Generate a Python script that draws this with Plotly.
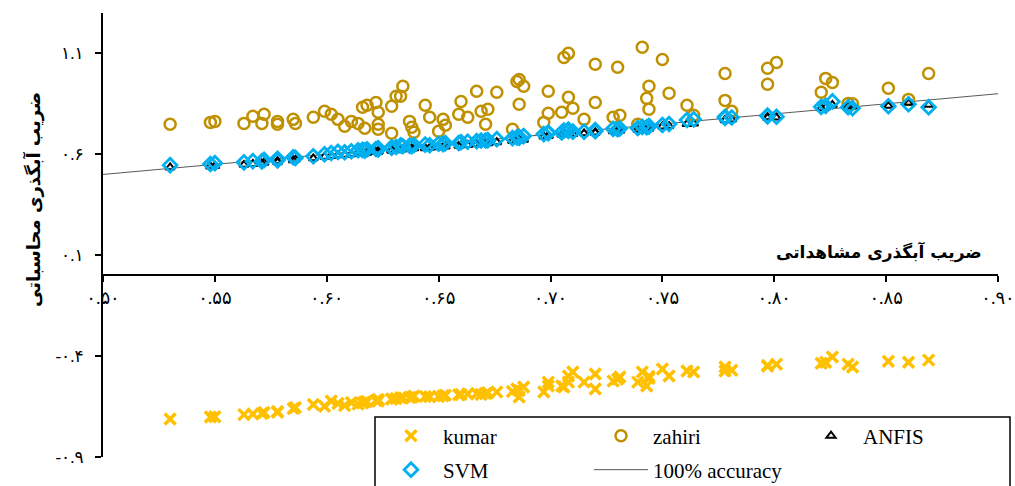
import plotly.graph_objects as go

# ---------------- data ----------------
observed = [0.530, 0.548, 0.550, 0.563, 0.567, 0.571, 0.572, 0.578, 0.578, 0.585,
            0.586, 0.594, 0.599, 0.602, 0.605, 0.608, 0.611, 0.614, 0.617, 0.616,
            0.618, 0.622, 0.623, 0.623, 0.623, 0.629, 0.631, 0.634, 0.629, 0.637,
            0.633, 0.644, 0.646, 0.638, 0.639, 0.652, 0.653, 0.650, 0.660, 0.659,
            0.663, 0.667, 0.669, 0.672, 0.671, 0.676, 0.685, 0.686, 0.688, 0.686,
            0.683, 0.699, 0.699, 0.697, 0.706, 0.708, 0.708, 0.710, 0.705, 0.715,
            0.720, 0.720, 0.728, 0.731, 0.730, 0.739, 0.741, 0.743, 0.744, 0.744,
            0.750, 0.753, 0.761, 0.764, 0.778, 0.778, 0.781, 0.797, 0.801, 0.797,
            0.823, 0.826, 0.821, 0.833, 0.835, 0.851, 0.860, 0.869]

zahiri = [0.749, 0.758, 0.763, 0.753, 0.788, 0.753, 0.798, 0.763, 0.749, 0.773,
          0.753, 0.783, 0.813, 0.798, 0.773, 0.739, 0.763, 0.753, 0.729, 0.833,
          0.843, 0.857, 0.808, 0.749, 0.724, 0.838, 0.887, 0.937, 0.704, 0.763,
          0.887, 0.843, 0.783, 0.734, 0.709, 0.773, 0.744, 0.714, 0.862, 0.798,
          0.783, 0.912, 0.813, 0.823, 0.749, 0.907, 0.961, 0.971, 0.937, 0.848,
          0.724, 0.912, 0.803, 0.758, 1.080, 1.100, 0.882, 0.828, 0.808, 0.773,
          1.046, 0.857, 0.783, 0.793, 1.031, 0.749, 1.130, 0.877, 0.937, 0.823,
          1.070, 0.902, 0.843, 0.793, 1.000, 0.867, 0.813, 1.026, 1.055, 0.947,
          0.976, 0.956, 0.907, 0.852, 0.850, 0.927, 0.872, 1.000]

anfis = [0.535, 0.540, 0.542, 0.548, 0.552, 0.555, 0.558, 0.560, 0.566, 0.570,
         0.574, 0.580, 0.588, 0.592, 0.595, 0.598, 0.600, 0.604, 0.605, 0.606,
         0.608, 0.612, 0.614, 0.612, 0.616, 0.618, 0.620, 0.625, 0.620, 0.626,
         0.622, 0.630, 0.632, 0.628, 0.630, 0.636, 0.638, 0.635, 0.645, 0.642,
         0.646, 0.650, 0.652, 0.655, 0.653, 0.660, 0.670, 0.668, 0.672, 0.670,
         0.666, 0.690, 0.692, 0.688, 0.700, 0.702, 0.706, 0.700, 0.698, 0.704,
         0.708, 0.706, 0.714, 0.716, 0.718, 0.722, 0.724, 0.728, 0.726, 0.730,
         0.738, 0.740, 0.750, 0.752, 0.768, 0.770, 0.772, 0.780, 0.782, 0.784,
         0.832, 0.845, 0.828, 0.840, 0.838, 0.840, 0.855, 0.845]

svm = [0.546, 0.552, 0.556, 0.560, 0.566, 0.565, 0.572, 0.570, 0.578, 0.585,
       0.582, 0.590, 0.600, 0.606, 0.612, 0.610, 0.615, 0.620, 0.618, 0.622,
       0.625, 0.626, 0.630, 0.624, 0.628, 0.632, 0.636, 0.640, 0.634, 0.642,
       0.645, 0.648, 0.645, 0.640, 0.646, 0.650, 0.655, 0.652, 0.660, 0.656,
       0.662, 0.665, 0.668, 0.670, 0.668, 0.675, 0.684, 0.682, 0.690, 0.686,
       0.680, 0.704, 0.708, 0.700, 0.718, 0.722, 0.716, 0.712, 0.708, 0.712,
       0.714, 0.720, 0.726, 0.728, 0.724, 0.730, 0.736, 0.734, 0.738, 0.740,
       0.745, 0.750, 0.770, 0.773, 0.780, 0.786, 0.782, 0.788, 0.786, 0.792,
       0.840, 0.862, 0.835, 0.833, 0.828, 0.838, 0.848, 0.833]

kumar = [-0.712, -0.702, -0.700, -0.690, -0.687, -0.684, -0.680, -0.678, -0.674, -0.660,
         -0.655, -0.640, -0.648, -0.623, -0.635, -0.645, -0.630, -0.638, -0.628, -0.632,
         -0.625, -0.620, -0.618, -0.622, -0.615, -0.612, -0.610, -0.608, -0.614, -0.605,
         -0.606, -0.600, -0.602, -0.604, -0.598, -0.596, -0.594, -0.600, -0.590, -0.592,
         -0.588, -0.585, -0.590, -0.582, -0.586, -0.578, -0.563, -0.603, -0.553, -0.570,
         -0.575, -0.548, -0.529, -0.578, -0.553, -0.499, -0.529, -0.479, -0.548, -0.529,
         -0.489, -0.563, -0.524, -0.504, -0.515, -0.529, -0.479, -0.548, -0.500, -0.510,
         -0.464, -0.499, -0.474, -0.479, -0.454, -0.474, -0.470, -0.450, -0.440, -0.446,
         -0.430, -0.405, -0.436, -0.440, -0.454, -0.425, -0.430, -0.420]

accuracy_line = [0.50, 0.90]

x_range = [0.50, 0.90]
y_range = [-0.9, 1.3]
x_ticks = [0.50, 0.55, 0.60, 0.65, 0.70, 0.75, 0.80, 0.85, 0.90]
x_tick_labels = ["۰.۵۰", "۰.۵۵", "۰.۶۰", "۰.۶۵", "۰.۷۰", "۰.۷۵", "۰.۸۰", "۰.۸۵", "۰.۹۰"]
y_ticks = [-0.9, -0.4, 0.1, 0.6, 1.1]
y_tick_labels = ["-۰.۹", "-۰.۴", "۰.۱", "۰.۶", "۱.۱"]

x_title = "ضریب آبگذری مشاهداتی"
y_title = "ضریب آبگذری محاسباتی"

SERIF = "Times New Roman, Liberation Serif, DejaVu Serif, serif"
FA = "Times New Roman, DejaVu Sans, Liberation Serif, sans-serif"

fig = go.Figure()

fig.add_trace(go.Scatter(
    x=accuracy_line, y=accuracy_line, mode="lines", name="100% accuracy",
    line=dict(color="#595959", width=1), legend="legend2", legendrank=2))

fig.add_trace(go.Scatter(
    x=observed, y=kumar, mode="markers", name="kumar", legendrank=1,
    marker=dict(symbol="x-thin-open", size=11, color="#FFC000",
                line=dict(color="#FFC000", width=3.5))))

fig.add_trace(go.Scatter(
    x=observed, y=zahiri, mode="markers", name="zahiri", legendrank=2,
    marker=dict(symbol="circle-open", size=11, color="#BF9000",
                line=dict(color="#BF9000", width=2.5))))

fig.add_trace(go.Scatter(
    x=observed, y=anfis, mode="markers", name="ANFIS", legendrank=3,
    marker=dict(symbol="triangle-up-open", size=8, color="black",
                line=dict(color="black", width=2))))

fig.add_trace(go.Scatter(
    x=observed, y=svm, mode="markers", name="SVM", legend="legend2", legendrank=1,
    marker=dict(symbol="diamond-open", size=10.5, color="#00B0F0",
                line=dict(color="#00B0F0", width=2.8))))

W, H = 1015, 486
ML, MR, MT, MB = 103, 17, 13, 29
PW, PH = W - ML - MR, H - MT - MB


def px_x(p):
    return (p - ML) / PW


def px_y(p):
    return (H - MB - p) / PH


def cx(p):
    return p / W


def cy(p):
    return (H - p) / H


legend_common = dict(
    orientation="h", xanchor="left", yanchor="middle",
    xref="container", yref="container",
    entrywidth=141, entrywidthmode="pixels", bgcolor="rgba(0,0,0,0)",
    font=dict(family=SERIF, size=21, color="black"), itemwidth=54)

fig.update_layout(
    width=W, height=H,
    margin=dict(l=ML, r=MR, t=MT, b=MB, autoexpand=False),
    paper_bgcolor="white", plot_bgcolor="white",
    font=dict(family=SERIF, color="black"),
    xaxis=dict(
        range=x_range, anchor="free",
        position=(0 - y_range[0]) / (y_range[1] - y_range[0]),
        showline=True, linecolor="black", linewidth=2,
        ticks="outside", ticklen=6, tickwidth=1.5, tickcolor="black",
        tickvals=x_ticks, ticktext=x_tick_labels,
        tickfont=dict(family=FA, size=18, color="black"),
        showgrid=False, zeroline=False),
    yaxis=dict(
        range=y_range,
        showline=True, linecolor="black", linewidth=2,
        ticks="outside", ticklen=6, tickwidth=1.5, tickcolor="black",
        tickvals=y_ticks, ticktext=y_tick_labels, ticklabelstandoff=8,
        tickfont=dict(family=FA, size=17, color="black"),
        showgrid=False, zeroline=False),
    legend=dict(x=cx(379), y=cy(436), **legend_common),
    legend2=dict(x=cx(379), y=cy(470), **legend_common),
    showlegend=True,
    shapes=[dict(type="rect", xref="paper", yref="paper",
                 x0=px_x(375), x1=px_x(1010), y0=px_y(500), y1=px_y(417),
                 line=dict(color="black", width=1.5), fillcolor="rgba(0,0,0,0)")],
    annotations=[
        dict(text=x_title, xref="paper", yref="paper", x=px_x(984), y=px_y(252),
             xanchor="right", yanchor="middle", showarrow=False,
             font=dict(family="DejaVu Sans", size=17, color="black", weight="bold")),
        dict(text=y_title, xref="paper", yref="paper", x=px_x(33), y=px_y(200),
             xanchor="center", yanchor="middle", showarrow=False, textangle=-90,
             font=dict(family="DejaVu Sans", size=18, color="black", weight="bold")),
    ],
)

fig.write_html("out.html")
